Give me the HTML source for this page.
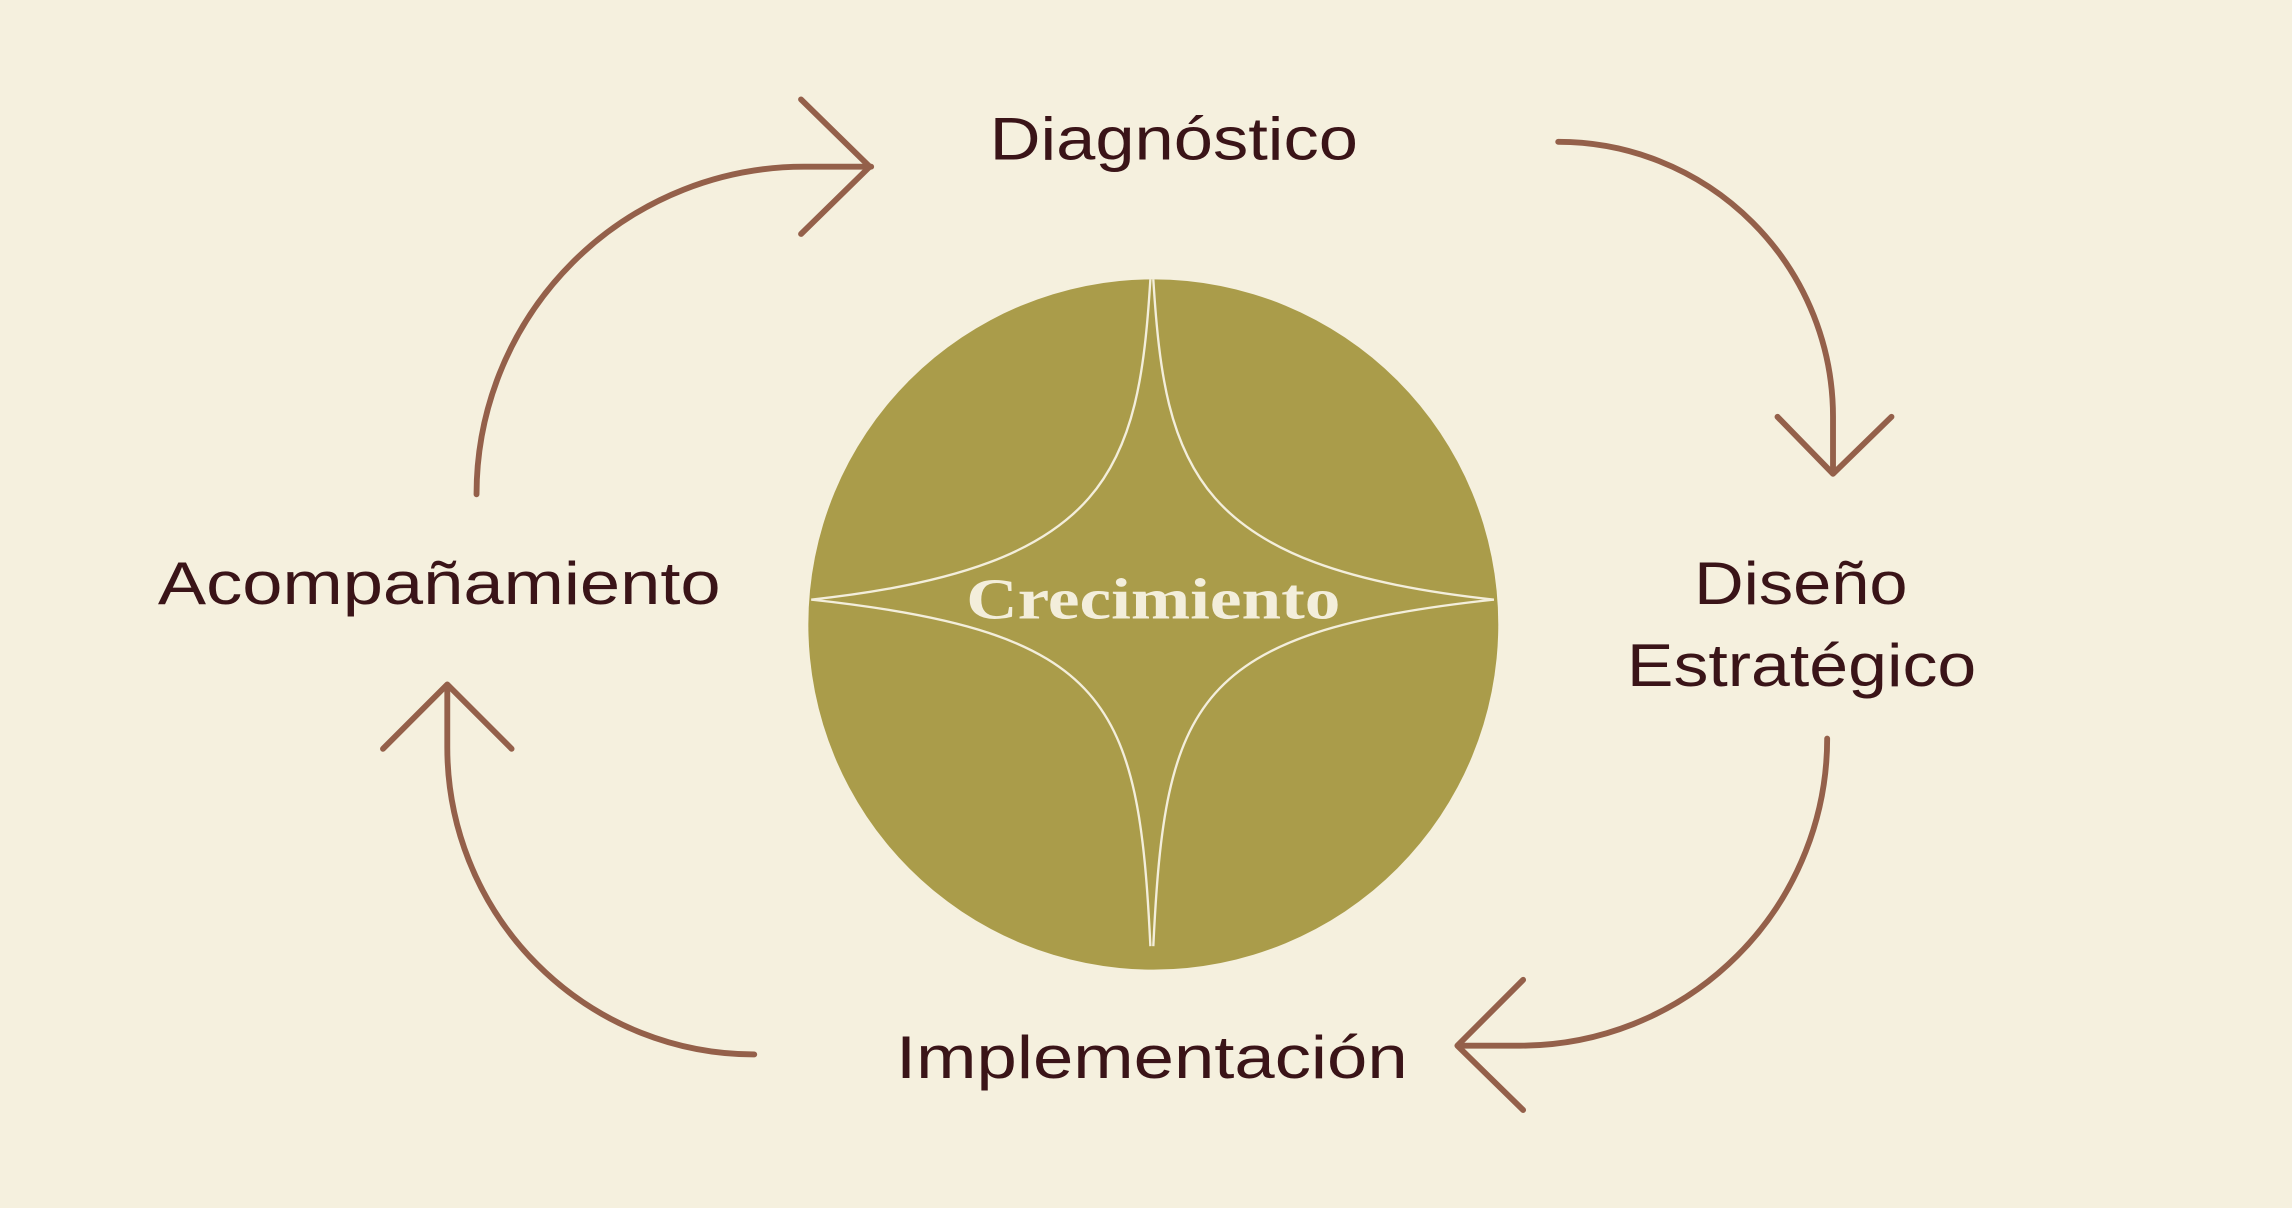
<!DOCTYPE html>
<html><head><meta charset="utf-8"><style>
html,body{margin:0;padding:0;background:#f5f0de;}
svg{display:block;}
</style></head><body>
<svg width="2292" height="1208" viewBox="0 0 1568 826" preserveAspectRatio="none" xmlns="http://www.w3.org/2000/svg">
<rect width="1568" height="826" fill="#f5f0de"/>
<circle cx="789" cy="427" r="236" fill="#aa9c4a"/>
<g fill="none" stroke="#f3eedb" stroke-width="1.6">
<path d="M787,191 C779,320 760,388 555,410"/>
<path d="M789,191 C797,320 816,388 1022,410"/>
<path d="M787,647 C779,480 760,432 555,410"/>
<path d="M789,647 C797,480 816,432 1022,410"/>
</g>
<text x="789" y="423" text-anchor="middle" font-family="Liberation Serif, serif" font-weight="bold" font-size="40" fill="#f3eedb" textLength="256" lengthAdjust="spacingAndGlyphs">Crecimiento</text>
<g font-family="Liberation Sans, sans-serif" font-size="41" fill="#3a1418">
<text x="677" y="109" textLength="252" lengthAdjust="spacingAndGlyphs">Diagnóstico</text>
<text x="108" y="413" textLength="385" lengthAdjust="spacingAndGlyphs">Acompañamiento</text>
<text x="1159" y="413" textLength="146" lengthAdjust="spacingAndGlyphs">Diseño</text>
<text x="1113" y="469" textLength="239" lengthAdjust="spacingAndGlyphs">Estratégico</text>
<text x="613" y="737" textLength="350" lengthAdjust="spacingAndGlyphs">Implementación</text>
</g>
<g fill="none" stroke="#94604a" stroke-width="4" stroke-linecap="round" stroke-linejoin="round">
<path d="M326,338 A224,224 0 0 1 550,114 L596,114"/>
<path d="M548,68 L595,114 L548,160"/>
<path d="M1066,97 A188,188 0 0 1 1254,285 L1254,323"/>
<path d="M1216,285 L1254,324 L1294,285"/>
<path d="M1250,505 A210,210 0 0 1 1040,715 L999,715"/>
<path d="M1042,670 L997,715 L1042,759"/>
<path d="M516,721 A210,210 0 0 1 306,511 L306,470"/>
<path d="M262,512 L306,468 L350,512"/>
</g>
</svg>
</body></html>
